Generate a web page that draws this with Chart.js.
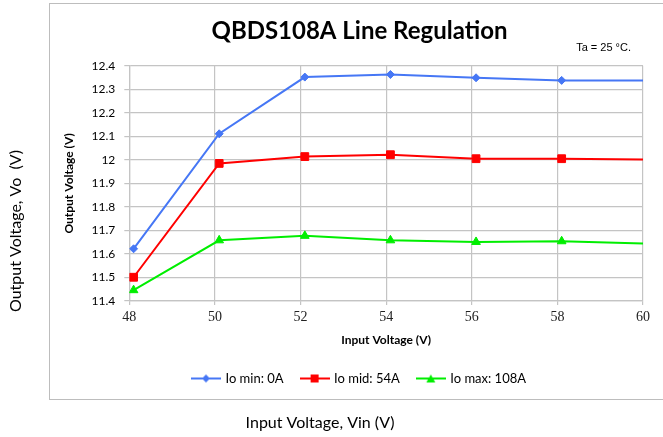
<!DOCTYPE html>
<html>
<head>
<meta charset="utf-8">
<script src="https://cdn.jsdelivr.net/npm/chart.js@4.4.0/dist/chart.umd.min.js"></script>
<style>
  body { margin: 0; background: #fff; }
  canvas { display: block; }
</style>
</head>
<body>
<canvas id="chart" width="663" height="437"></canvas>
<script>
// values
const inputVoltage = [48.1, 50.1, 52.1, 54.1, 56.1, 58.1, 60];
const ioMin = [11.622, 12.111, 12.352, 12.363, 12.349, 12.338, 12.338];
const ioMid = [11.501, 11.985, 12.014, 12.022, 12.005, 12.005, 12.002];
const ioMax = [11.446, 11.658, 11.677, 11.658, 11.651, 11.654, 11.644];
const seriesNames = ["Io min: 0A", "Io mid: 54A", "Io max: 108A"];
const xTicks = [48, 50, 52, 54, 56, 58, 60];
const yTicks = [11.4, 11.5, 11.6, 11.7, 11.8, 11.9, 12, 12.1, 12.2, 12.3, 12.4];

const BLUE = "#4677f5";
const RED = "#ff0000";
const GREEN = "#00ee00";
const GRID = "#c4c4c4";

// legend icon: short line with the marker in the middle
function legendIcon(color, shape) {
  const c = document.createElement("canvas");
  c.width = 30;
  c.height = 12;
  const g = c.getContext("2d");
  g.strokeStyle = color;
  g.fillStyle = color;
  g.lineWidth = 2;
  g.beginPath();
  g.moveTo(0, 6);
  g.lineTo(30, 6);
  g.stroke();
  g.beginPath();
  if (shape === "diamond") {
    g.moveTo(15, 2); g.lineTo(19, 6); g.lineTo(15, 10); g.lineTo(11, 6);
  } else if (shape === "square") {
    g.rect(11, 2, 8, 8);
  } else {
    g.moveTo(15, 2); g.lineTo(19.5, 10); g.lineTo(10.5, 10);
  }
  g.closePath();
  g.fill();
  return c;
}

function toPoints(ys) {
  return ys.map((y, i) => ({ x: inputVoltage[i], y: y }));
}

function markerSizes(r) {
  // the last point (60 V) has no marker in the reference
  return inputVoltage.map((v, i) => (i === inputVoltage.length - 1 ? 0 : r));
}

const decor = {
  id: "decor",
  beforeDraw(chart) {
    const ctx = chart.ctx;
    ctx.save();
    ctx.fillStyle = "#fff";
    ctx.fillRect(0, 0, chart.width, chart.height);
    ctx.strokeStyle = "#bdbdbd";
    ctx.lineWidth = 1;
    ctx.strokeRect(49.5, 3.5, 700, 396);
    ctx.restore();
  },
  afterDraw(chart) {
    const ctx = chart.ctx;
    ctx.save();
    ctx.fillStyle = "#000";
    ctx.font = "11px 'Liberation Sans'";
    ctx.textAlign = "right";
    ctx.textBaseline = "middle";
    ctx.fillText("Ta = 25 \u00B0C.", 631, 48);

    ctx.font = "16px Lato";
    ctx.textAlign = "center";
    ctx.fillText("Input Voltage, Vin (V)", 320, 423);

    ctx.translate(16, 231);
    ctx.rotate(-Math.PI / 2);
    ctx.fillText("Output Voltage, Vo  (V)", 0, 0);
    ctx.restore();
  },
};

const chart = new Chart(document.getElementById("chart"), {
  type: "line",
  data: {
    datasets: [
      {
        label: seriesNames[0],
        data: toPoints(ioMin),
        borderColor: BLUE,
        backgroundColor: BLUE,
        borderWidth: 2,
        pointStyle: "rectRot",
        pointRadius: markerSizes(4),
        pointBorderWidth: 1,
      },
      {
        label: seriesNames[1],
        data: toPoints(ioMid),
        borderColor: RED,
        backgroundColor: RED,
        borderWidth: 2,
        pointStyle: "rect",
        pointRadius: markerSizes(5.5),
        pointBorderWidth: 1,
      },
      {
        label: seriesNames[2],
        data: toPoints(ioMax),
        borderColor: GREEN,
        backgroundColor: GREEN,
        borderWidth: 2,
        pointStyle: "triangle",
        pointRadius: markerSizes(5),
        pointBorderWidth: 1,
      },
    ],
  },
  options: {
    responsive: false,
    animation: false,
    layout: { padding: { left: 76, right: 20, top: 0, bottom: 42 } },
    plugins: {
      title: {
        display: true,
        text: "QBDS108A Line Regulation",
        color: "#000",
        font: { family: "Lato", size: 24, weight: "bold" },
        padding: { top: 17, bottom: 20 },
      },
      legend: {
        position: "bottom",
        labels: {
          color: "#000",
          font: { family: "Lato", size: 13 },
          usePointStyle: true,
          pointStyleWidth: 26,
          padding: 18,
          generateLabels(chart) {
            const shapes = ["diamond", "square", "triangle"];
            return chart.data.datasets.map((ds, i) => ({
              text: ds.label,
              pointStyle: legendIcon(ds.borderColor, shapes[i]),
              fillStyle: ds.borderColor,
              strokeStyle: ds.borderColor,
              lineWidth: 0,
              datasetIndex: i,
              fontColor: "#000",
            }));
          },
        },
      },
      tooltip: { enabled: false },
    },
    scales: {
      x: {
        type: "linear",
        min: 48,
        max: 60,
        afterBuildTicks(scale) {
          scale.ticks = xTicks.map((v) => ({ value: v }));
        },
        afterFit(scale) {
          scale.height = 53;
        },
        ticks: {
          color: "#222",
          font: { family: "Liberation Serif", size: 14 },
          padding: 4,
          maxRotation: 0,
        },
        grid: { color: GRID, lineWidth: 1.2, tickLength: 4 },
        border: { color: GRID, width: 1.2 },
        title: {
          display: true,
          text: "Input Voltage (V)",
          color: "#000",
          font: { family: "Lato", size: 12, weight: "bold" },
          padding: { top: 0, bottom: 7 },
        },
      },
      y: {
        min: 11.4,
        max: 12.4,
        afterBuildTicks(scale) {
          scale.ticks = yTicks.map((v) => ({ value: v }));
        },
        afterFit(scale) {
          scale.width = 53.3;
        },
        ticks: {
          color: "#000",
          font: { family: "Lato", size: 12 },
          padding: 9,
          callback: (v) => String(Number(v.toFixed(1))),
        },
        grid: { color: GRID, lineWidth: 1.2, tickLength: 5 },
        border: { color: GRID, width: 1.2 },
        title: {
          display: true,
          text: "Output Voltage (V)",
          color: "#000",
          font: { family: "Lato", size: 12, weight: "bold" },
          padding: { top: -14, bottom: 0 },
        },
      },
    },
  },
  plugins: [decor],
});
</script>
</body>
</html>
